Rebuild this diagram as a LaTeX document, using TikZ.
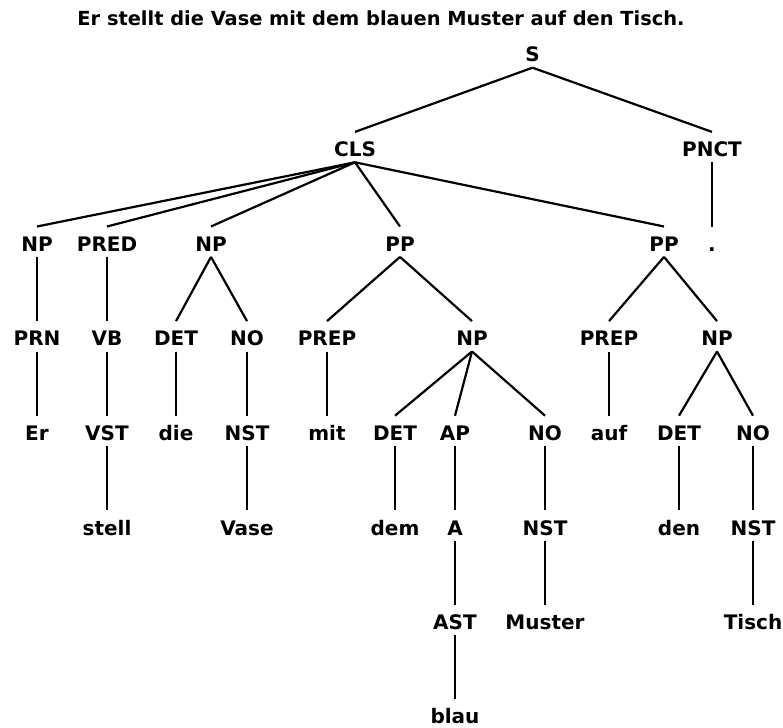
\documentclass[tikz,border=0pt]{standalone}
\usepackage{fontspec}
\setmainfont{DejaVu Sans}
\begin{document}
\begin{tikzpicture}[x=1pt,y=-1pt,
  lab/.style={anchor=base,font=\bfseries\fontsize{20}{24}\selectfont,text height=19pt,text depth=0pt,inner xsep=0pt,inner ysep=5.5pt},
  leaf/.style={lab,text height=22.5pt,inner ysep=2pt},
  ttl/.style={anchor=base,font=\bfseries\fontsize{19.4}{23}\selectfont,inner sep=0pt},
  edge/.style={line width=2.2pt}]
\useasboundingbox (0,0) rectangle (783,727);
\def\rA{62}\def\rB{156.6}\def\rC{251.2}\def\rD{345.8}\def\rE{440.4}\def\rF{535}\def\rG{629.6}\def\rH{723.6}
\node[ttl] (title) at (381,26) {Er stellt die Vase mit dem blauen Muster auf den Tisch.};
% row 0-1
\node[lab] (S) at (532.5,\rA) {S};
\node[lab] (CLS) at (355,\rB) {CLS};
\node[lab] (PNCT) at (712,\rB) {PNCT};
% row 2
\node[lab] (np1) at (37,\rC) {NP};
\node[lab] (pred) at (107,\rC) {PRED};
\node[lab] (np2) at (211,\rC) {NP};
\node[lab] (pp1) at (400,\rC) {PP};
\node[lab] (pp2) at (664,\rC) {PP};
\node[lab] (dot) at (712,\rC) {.};
% row 3
\node[lab] (prn) at (37,\rD) {PRN};
\node[lab] (vb) at (107,\rD) {VB};
\node[lab] (det1) at (176,\rD) {DET};
\node[lab] (no1) at (247,\rD) {NO};
\node[lab] (prep1) at (327,\rD) {PREP};
\node[lab] (np3) at (472,\rD) {NP};
\node[lab] (prep2) at (609,\rD) {PREP};
\node[lab] (np4) at (717,\rD) {NP};
% row 4
\node[lab] (er) at (37,\rE) {Er};
\node[lab] (vst) at (107,\rE) {VST};
\node[lab] (die) at (176,\rE) {die};
\node[lab] (nst1) at (247,\rE) {NST};
\node[lab] (mit) at (327,\rE) {mit};
\node[lab] (det2) at (395,\rE) {DET};
\node[lab] (ap) at (455,\rE) {AP};
\node[lab] (no2) at (545,\rE) {NO};
\node[lab] (auf) at (609,\rE) {auf};
\node[lab] (det3) at (679,\rE) {DET};
\node[lab] (no3) at (753,\rE) {NO};
% row 5
\node[lab] (stell) at (107,\rF) {stell};
\node[lab] (vase) at (247,\rF) {Vase};
\node[lab] (dem) at (395,\rF) {dem};
\node[lab] (a) at (455,\rF) {A};
\node[lab] (nst2) at (545,\rF) {NST};
\node[lab] (den) at (679,\rF) {den};
\node[lab] (nst3) at (753,\rF) {NST};
% row 6
\node[lab] (ast) at (455,\rG) {AST};
\node[lab] (muster) at (545,\rG) {Muster};
\node[lab] (tisch) at (753,\rG) {Tisch};
% row 7
\node[leaf] (blau) at (455,\rH) {blau};
% edges
\foreach \p/\c in {S/CLS,S/PNCT,CLS/np1,CLS/pred,CLS/np2,CLS/pp1,CLS/pp2,PNCT/dot,
  np1/prn,pred/vb,np2/det1,np2/no1,pp1/prep1,pp1/np3,pp2/prep2,pp2/np4,
  prn/er,vb/vst,det1/die,no1/nst1,prep1/mit,np3/det2,np3/ap,np3/no2,prep2/auf,np4/det3,np4/no3,
  vst/stell,nst1/vase,det2/dem,ap/a,no2/nst2,det3/den,no3/nst3,
  a/ast,nst2/muster,nst3/tisch,ast/blau}
  \draw[edge] (\p.south) -- (\c.north);
\end{tikzpicture}
\end{document}
